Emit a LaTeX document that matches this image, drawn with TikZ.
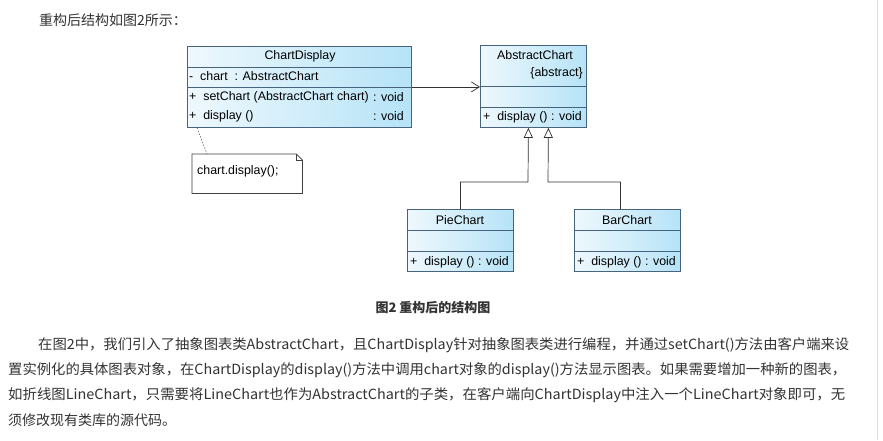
\documentclass[tikz,border=0pt]{standalone}
\usepackage{graphicx}
\usepackage{fontspec}
\setmainfont{Liberation Sans}
\newfontfamily\cjk{Noto Sans CJK SC}
\usetikzlibrary{arrows.meta}
\definecolor{bordc}{RGB}{70,100,125}
\definecolor{lightc}{RGB}{238,248,253}
\definecolor{darkc}{RGB}{182,227,247}
\definecolor{txtc}{RGB}{51,51,51}
\tikzset{
  classbox/.style={rectangle, draw=bordc, line width=0.8pt, left color=lightc, right color=darkc, anchor=north west, inner sep=0pt},
  divline/.style={draw=bordc, line width=0.8pt},
  umltext/.style={font=\fontsize{12.4}{13}\selectfont, inner sep=0pt, text=black},
  cjktext/.style={font=\cjk\fontsize{14}{16}\selectfont, inner sep=0pt, text=txtc, anchor=west},
  assoc/.style={draw=black!80, line width=0.7pt, -{Straight Barb[length=8pt,width=10pt]}},
  inherit/.style={draw=black!80, line width=0.7pt, -{Triangle[open,length=10pt,width=9pt,fill=white]}},
  notelink/.style={draw=black!60, line width=0.6pt, dash pattern=on 1.5pt off 1.5pt},
}
\begin{document}
\begin{tikzpicture}[x=1pt,y=-1pt]
\useasboundingbox[fill=white] (0,0) rectangle (883,440);
\draw[draw=black!12, line width=0.8pt] (877.5,0) coordinate (sbtop) -- (877.5,440) coordinate (sbbot);

% header text
\node[cjktext] (t0) at (39,20) {重构后结构如图2所示：};

% ChartDisplay
\node[classbox, minimum width=224pt, minimum height=81pt] (cd) at (187,46) {};
\draw[divline] (187,67) -- (411,67);
\draw[divline] (187,87) -- (411,87);
\node[umltext] (cdn) at (300,56.5) {ChartDisplay};
\node[umltext, anchor=west] (cda) at (189,76.5) {-\ \ chart\ \ : AbstractChart};
\node[umltext, anchor=west] (cdm1) at (189,97.5) {+\ \ setChart (AbstractChart chart)};
\node[umltext, anchor=east] (cdv1) at (404,97.5) {: void};
\node[umltext, anchor=west] (cdm2) at (189,116.5) {+\ \ display ()};
\node[umltext, anchor=east] (cdv2) at (404,116.5) {: void};

% Note
\node[rectangle, minimum width=110pt, minimum height=39pt, anchor=north west, inner sep=0pt] (note) at (192,154) {};
\draw[draw=black!75, line width=0.7pt, fill=white] (note.north west) -- ([xshift=-6pt]note.north east) -- ([yshift=-6pt]note.north east) -- (note.south east) -- (note.south west) -- cycle;
\draw[draw=black!75, line width=0.7pt] ([xshift=-6pt]note.north east) -- ([xshift=-6pt,yshift=-6pt]note.north east) -- ([yshift=-6pt]note.north east);
\node[umltext, anchor=west] (notet) at (197,171) {chart.display();};
\draw[notelink] ([xshift=10pt]cd.south west) -- ([xshift=15pt]note.north west);

% AbstractChart
\node[classbox, minimum width=106pt, minimum height=82pt] (ac) at (480,45) {};
\draw[divline] (480,86) -- (586,86);
\draw[divline] (480,107) -- (586,107);
\node[umltext] (acn) at (535,55) {AbstractChart};
\node[umltext, anchor=east] (aca) at (583,73) {\{abstract\}};
\node[umltext, anchor=west] (acm) at (483,117) {+\ \ display () : void};

% PieChart
\node[classbox, minimum width=106pt, minimum height=62pt] (pie) at (407,209) {};
\draw[divline] (407,230) -- (513,230);
\draw[divline] (407,251) -- (513,251);
\node[umltext] (pien) at (460,220) {PieChart};
\node[umltext, anchor=west] (piem) at (410,262) {+\ \ display () : void};

% BarChart
\node[classbox, minimum width=106pt, minimum height=62pt] (bar) at (574,209) {};
\draw[divline] (574,230) -- (680,230);
\draw[divline] (574,251) -- (680,251);
\node[umltext] (barn) at (627,220) {BarChart};
\node[umltext, anchor=west] (barm) at (577,262) {+\ \ display () : void};

% connectors
\draw[assoc] (cd.east) -- (cd.east -| ac.west);
\draw[inherit] (pie.north) |- (528,182) -- ([xshift=-5pt]ac.south);
\draw[inherit] ([xshift=-7pt]bar.north) |- (548,182) -- ([xshift=15pt]ac.south);

% caption
\node[font=\cjk\bfseries\fontsize{13}{15}\selectfont, inner sep=0pt, text=txtc] (cap) at (433,308) {图2 重构后的结构图};

% paragraph
\node[cjktext] (p1) at (38,345) {\resizebox{811pt}{\height}{在图2中，我们引入了抽象图表类AbstractChart，且ChartDisplay针对抽象图表类进行编程，并通过setChart()方法由客户端来设}};
\node[cjktext] (p2) at (8,370) {\resizebox{838pt}{\height}{置实例化的具体图表对象，在ChartDisplay的display()方法中调用chart对象的display()方法显示图表。如果需要增加一种新的图表，}};
\node[cjktext] (p3) at (8,395) {\resizebox{837pt}{\height}{如折线图LineChart，只需要将LineChart也作为AbstractChart的子类，在客户端向ChartDisplay中注入一个LineChart对象即可，无}};
\node[cjktext] (p4) at (8,420) {须修改现有类库的源代码。};
\end{tikzpicture}
\end{document}
